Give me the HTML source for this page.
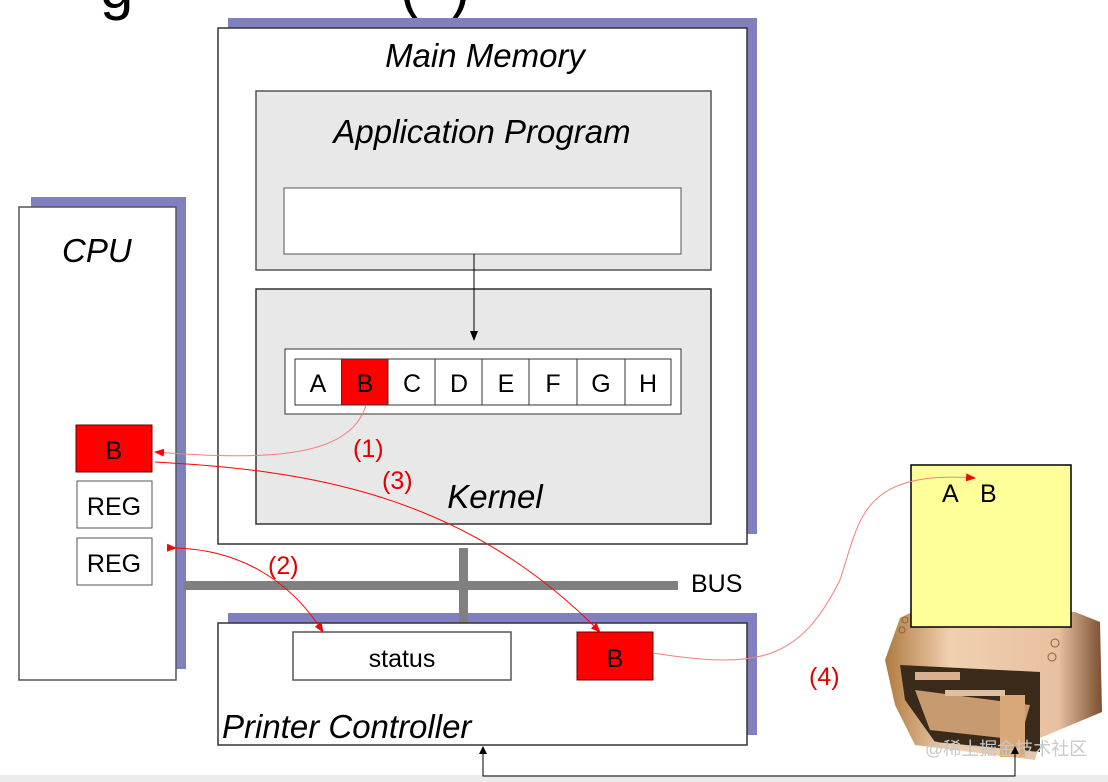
<!DOCTYPE html>
<html><head><meta charset="utf-8"><style>
html,body{margin:0;padding:0;background:#fff;width:1108px;height:782px;overflow:hidden}
svg{display:block}
text{font-family:"Liberation Sans",Arial,sans-serif}
</style></head><body>
<svg width="1108" height="782" viewBox="0 0 1108 782" xmlns="http://www.w3.org/2000/svg">
<defs>
<marker id="ar" markerWidth="10" markerHeight="8" refX="9" refY="4" orient="auto" markerUnits="userSpaceOnUse"><path d="M0,0 L10,4 L0,8 z" fill="#f00"/></marker>
<marker id="ak" markerWidth="10" markerHeight="8" refX="9" refY="4" orient="auto" markerUnits="userSpaceOnUse"><path d="M0,0 L10,4 L0,8 z" fill="#000"/></marker>
<linearGradient id="pg" x1="0" x2="1"><stop offset="0" stop-color="#b07a40"/><stop offset="0.3" stop-color="#f0d0b0"/><stop offset="0.8" stop-color="#e8c0a0"/><stop offset="1" stop-color="#7a5030"/></linearGradient>
</defs>
<text x="100" y="8" font-size="60" fill="#000">g</text>
<text x="400" y="8" font-size="60" fill="#000">(</text>
<text x="450" y="8" font-size="60" fill="#000">)</text>
<rect x="0" y="775" width="1108" height="7" fill="#ececec"/>
<!-- CPU -->
<rect x="31" y="197" width="155" height="472" fill="#8080c0"/>
<rect x="19" y="207" width="157" height="473" fill="#fff" stroke="#555" stroke-width="1.5"/>
<text x="62" y="262" font-size="33" font-style="italic">CPU</text>
<rect x="76" y="425" width="76" height="47" fill="#f00" stroke="#600"/>
<text x="114" y="459" font-size="25" text-anchor="middle">B</text>
<rect x="77" y="481" width="75" height="47" fill="#fff" stroke="#555"/>
<text x="114" y="515" font-size="25" text-anchor="middle">REG</text>
<rect x="77" y="538" width="75" height="47" fill="#fff" stroke="#555"/>
<text x="114" y="572" font-size="25" text-anchor="middle">REG</text>
<!-- Main memory -->
<rect x="228" y="18" width="529" height="516" fill="#8080c0"/>
<rect x="218" y="28" width="529" height="516" fill="#fff" stroke="#333" stroke-width="1.5"/>
<text x="485" y="67" font-size="33" font-style="italic" text-anchor="middle">Main Memory</text>
<rect x="256" y="91" width="455" height="179" fill="#e8e8e8" stroke="#555" stroke-width="1.5"/>
<text x="482" y="143" font-size="33" font-style="italic" text-anchor="middle">Application Program</text>
<rect x="284" y="188" width="397" height="66" fill="#fff" stroke="#555"/>
<rect x="256" y="289" width="455" height="235" fill="#e8e8e8" stroke="#333" stroke-width="1.5"/>
<text x="495" y="508" font-size="33" font-style="italic" text-anchor="middle">Kernel</text>
<line x1="474" y1="254" x2="474" y2="340" stroke="#000" marker-end="url(#ak)"/>
<rect x="285" y="349" width="396" height="65" fill="#fff" stroke="#333"/>
<g stroke="#333">
<rect x="295" y="359" width="46.5" height="46" fill="#fff"/>
<rect x="341.5" y="359" width="46.5" height="46" fill="#f00"/>
<rect x="388" y="359" width="47" height="46" fill="#fff"/>
<rect x="435" y="359" width="47" height="46" fill="#fff"/>
<rect x="482" y="359" width="47" height="46" fill="#fff"/>
<rect x="529" y="359" width="48" height="46" fill="#fff"/>
<rect x="577" y="359" width="48" height="46" fill="#fff"/>
<rect x="625" y="359" width="46" height="46" fill="#fff"/>
</g>
<g font-size="25" text-anchor="middle">
<text x="318" y="392">A</text><text x="365" y="392">B</text><text x="412" y="392">C</text><text x="459" y="392">D</text><text x="506" y="392">E</text><text x="553" y="392">F</text><text x="601" y="392">G</text><text x="648" y="392">H</text>
</g>
<!-- BUS -->
<rect x="184" y="581" width="494" height="9" fill="#808080"/>
<rect x="459" y="548" width="9" height="75" fill="#808080"/>
<text x="691" y="592" font-size="25">BUS</text>
<!-- printer controller -->
<rect x="228" y="613" width="529" height="122" fill="#8080c0"/>
<rect x="459" y="613" width="9" height="10" fill="#808080"/>
<rect x="218" y="623" width="529" height="122" fill="#fff" stroke="#333" stroke-width="1.5"/>
<text x="222" y="738" font-size="33" font-style="italic">Printer Controller</text>
<rect x="293" y="632" width="218" height="48" fill="#fff" stroke="#555" stroke-width="1.5"/>
<text x="402" y="667" font-size="25" text-anchor="middle">status</text>
<rect x="577" y="632" width="76" height="48" fill="#f00" stroke="#600"/>
<text x="615" y="667" font-size="25" text-anchor="middle">B</text>
<!-- printer -->
<path d="M900,618 L930,603 L1075,612 L1100,622 L1102,712 L1040,738 L1035,760 L915,745 L895,705 L885,660 Z" fill="url(#pg)"/>
<path d="M900,665 L1040,672 L1040,752 L935,742 L905,700 Z" fill="#3a2a1a"/>
<path d="M915,690 L1030,705 L1020,740 L930,730 Z" fill="#c89a70"/>
<rect x="1000" y="695" width="25" height="62" fill="#d8a878"/>
<rect x="915" y="672" width="45" height="8" fill="#d8b090"/>
<rect x="945" y="690" width="60" height="6" fill="#e0c0a0"/>
<circle cx="905" cy="620" r="3" fill="none" stroke="#8a6040"/>
<circle cx="902" cy="630" r="3" fill="none" stroke="#8a6040"/>
<circle cx="1055" cy="643" r="4" fill="none" stroke="#8a6040"/>
<circle cx="1052" cy="657" r="4" fill="none" stroke="#8a6040"/>
<rect x="911" y="465" width="160" height="162" fill="#ffff99" stroke="#000" stroke-width="1.5"/>
<text x="942" y="502" font-size="25">A</text>
<text x="980" y="502" font-size="25">B</text>
<text x="925" y="755" font-size="18" fill="#c8c8c8" font-family="'Liberation Sans','Noto Sans CJK SC',sans-serif">@稀土掘金技术社区</text>
<polyline points="483,752 483,776 1015,776 1015,752" fill="none" stroke="#000"/>
<path d="M483,746 L479,754 L487,754 Z M1015,746 L1011,754 L1019,754 Z" fill="#000"/>
<g fill="none" stroke="#f00" stroke-width="1">
<path d="M366,405 C350,460 260,460 155,452" stroke="#f08080" marker-end="url(#ar)"/>
<path d="M155,462 C300,470 460,490 600,632" marker-end="url(#ar)"/>
<path d="M176,548 C240,550 290,580 323,632" marker-start="url(#ar)" marker-end="url(#ar)"/>
<path d="M653,653 C760,670 800,660 840,580 C860,520 860,470 975,478" stroke="#f08080" marker-end="url(#ar)"/>
</g>
<g fill="#e00000" font-size="25">
<text x="353" y="457">(1)</text>
<text x="382" y="489">(3)</text>
<text x="268" y="574">(2)</text>
<text x="809" y="685">(4)</text>
</g>
</svg>
</body></html>
